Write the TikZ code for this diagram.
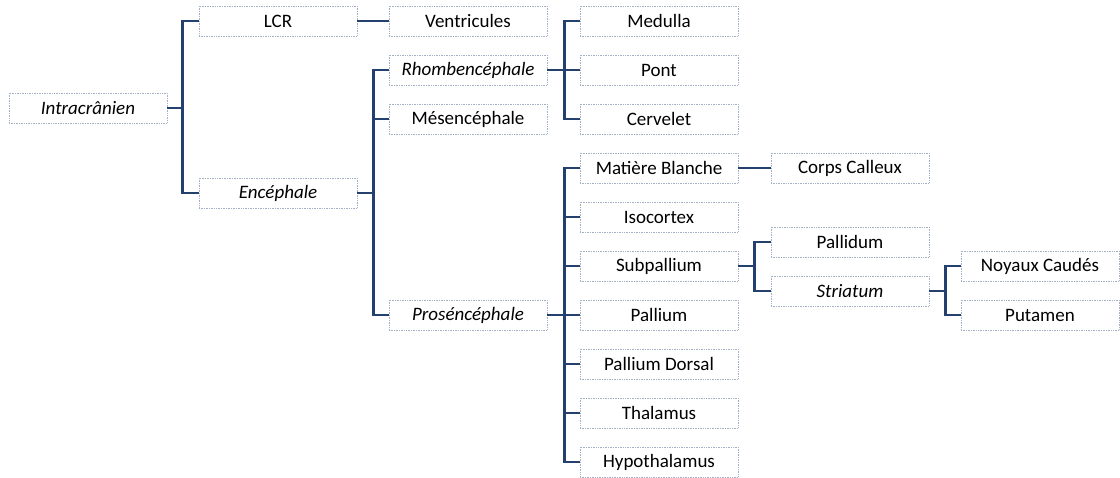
\documentclass[tikz,border=0pt]{standalone}
\usepackage{fontspec}
\setmainfont{Carlito}
\usepackage{xcolor}
\usepackage{tikz}
\definecolor{navy}{HTML}{24406E}
\definecolor{boxline}{HTML}{A3B1C6}

\begin{document}
\begin{tikzpicture}[x=0.025cm,y=-0.025cm,
  box/.style={draw=boxline, dash pattern=on 0.6pt off 0.6pt, line width=0.5pt, minimum width=3.95cm, minimum height=0.75cm, inner sep=0pt, font=\fontsize{13.5}{15}\selectfont},
  conn/.style={navy, line width=2.1pt}]
\useasboundingbox (0,0) rectangle (1120,478);
\node[box] (intra) at (88,108) {\textit{Intracrânien}};
\node[box] (lcr) at (278,21) {LCR};
\node[box] (ence) at (278,193) {\textit{Encéphale}};
\node[box] (ventr) at (468,21) {Ventricules};
\node[box] (rhomb) at (468,70) {\textit{Rhombencéphale}};
\node[box] (mesen) at (468,119) {Mésencéphale};
\node[box] (prose) at (468,315) {\textit{Proséncéphale}};
\node[box] (medul) at (659,21) {Medulla};
\node[box] (pont) at (659,70) {Pont};
\node[box] (cerv) at (659,119) {Cervelet};
\node[box] (matb) at (659,168) {Matière Blanche};
\node[box] (isoc) at (659,217) {Isocortex};
\node[box] (subp) at (659,266) {Subpallium};
\node[box] (pall) at (659,315) {Pallium};
\node[box] (palld) at (659,364) {Pallium Dorsal};
\node[box] (thal) at (659,413) {Thalamus};
\node[box] (hypo) at (659,462) {Hypothalamus};
\node[box] (corps) at (850,168) {Corps Calleux};
\node[box] (pallid) at (850,242) {Pallidum};
\node[box] (stri) at (850,291) {\textit{Striatum}};
\node[box] (noyx) at (1040,266) {Noyaux Caudés};
\node[box] (puta) at (1040,315) {Putamen};

\draw[conn] (intra.east) -- ++(15,0) |- (lcr.west);
\draw[conn] (intra.east) -- ++(15,0) |- (ence.west);
\draw[conn] (lcr.east) -- (ventr.west);
\draw[conn] (ence.east) -- ++(16,0) |- (rhomb.west);
\draw[conn] (ence.east) -- ++(16,0) |- (mesen.west);
\draw[conn] (ence.east) -- ++(16,0) |- (prose.west);
\draw[conn] (rhomb.east) -- ++(17,0) |- (medul.west);
\draw[conn] (rhomb.east) -- (pont.west);
\draw[conn] (rhomb.east) -- ++(17,0) |- (cerv.west);
\draw[conn] (prose.east) -- ++(17,0) |- (matb.west);
\draw[conn] (prose.east) -- ++(17,0) |- (isoc.west);
\draw[conn] (prose.east) -- ++(17,0) |- (subp.west);
\draw[conn] (prose.east) -- (pall.west);
\draw[conn] (prose.east) -- ++(17,0) |- (palld.west);
\draw[conn] (prose.east) -- ++(17,0) |- (thal.west);
\draw[conn] (prose.east) -- ++(17,0) |- (hypo.west);
\draw[conn] (matb.east) -- (corps.west);
\draw[conn] (subp.east) -- ++(16,0) |- (pallid.west);
\draw[conn] (subp.east) -- ++(16,0) |- (stri.west);
\draw[conn] (stri.east) -- ++(16,0) |- (noyx.west);
\draw[conn] (stri.east) -- ++(16,0) |- (puta.west);
\end{tikzpicture}
\end{document}
